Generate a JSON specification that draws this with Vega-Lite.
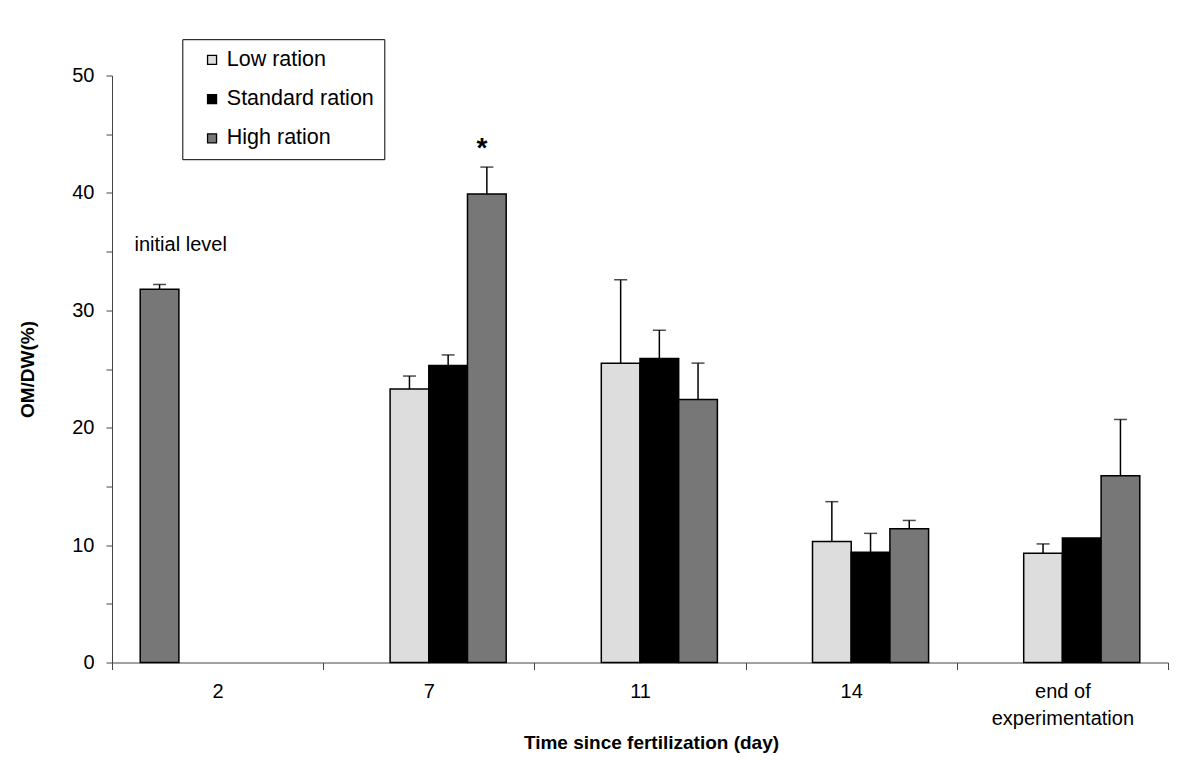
{
  "$schema": "https://vega.github.io/schema/vega-lite/v6.json",
  "autosize": {"type": "none"},
  "width": 1056,
  "height": 587,
  "padding": {"left": 112, "top": 75.5, "right": 24, "bottom": 97.5},
  "background": "white",
  "config": {
    "font": "Liberation Sans",
    "view": {"stroke": null},
    "axis": {"domainColor": "#444444", "tickColor": "#444444", "labelColor": "black", "titleColor": "black", "grid": false}
  },
  "datasets": {
    "bars": [
      {"day": "2", "series": "Initial level", "value": 31.8, "err": 32.2},
      {"day": "7", "series": "Low ration", "value": 23.3, "err": 24.4},
      {"day": "7", "series": "Standard ration", "value": 25.3, "err": 26.2},
      {"day": "7", "series": "High ration", "value": 39.9, "err": 42.2},
      {"day": "11", "series": "Low ration", "value": 25.5, "err": 32.6},
      {"day": "11", "series": "Standard ration", "value": 25.9, "err": 28.3},
      {"day": "11", "series": "High ration", "value": 22.4, "err": 25.5},
      {"day": "14", "series": "Low ration", "value": 10.3, "err": 13.7},
      {"day": "14", "series": "Standard ration", "value": 9.4, "err": 11.0},
      {"day": "14", "series": "High ration", "value": 11.4, "err": 12.1},
      {"day": "end of experimentation", "series": "Low ration", "value": 9.3, "err": 10.1},
      {"day": "end of experimentation", "series": "Standard ration", "value": 10.6, "err": null},
      {"day": "end of experimentation", "series": "High ration", "value": 15.9, "err": 20.7}
    ]
  },
  "encoding": {
    "x": {
      "field": "day", "type": "nominal",
      "sort": ["2", "7", "11", "14", "end of experimentation"],
      "scale": {"domain": ["2", "7", "11", "14", "end of experimentation"], "paddingInner": 0, "paddingOuter": 0},
      "axis": {
        "title": "Time since fertilization (day)",
        "titleFontSize": 19, "titleFontWeight": "bold",
        "titleX": 539, "titleY": 80, "titleBaseline": "middle",
        "labelAngle": 0, "labelFontSize": 20, "labelLineHeight": 27,
        "labelPadding": 12, "tickSize": 7, "tickBand": "extent",
        "labelExpr": "datum.value == 'end of experimentation' ? ['end of', 'experimentation'] : datum.label"
      }
    },
    "xOffset": {
      "field": "series", "type": "nominal",
      "sort": ["Initial level", "Low ration", "Standard ration", "High ration"],
      "scale": {"domain": ["Initial level", "Low ration", "Standard ration", "High ration"], "paddingInner": 0, "paddingOuter": 0.729}
    }
  },
  "layer": [
    {
      "data": {"name": "bars"},
      "mark": {"type": "bar", "stroke": "black", "strokeWidth": 1.5},
      "encoding": {
        "y": {
          "field": "value", "type": "quantitative",
          "scale": {"domain": [0, 50], "nice": false},
          "axis": {
            "title": "OM/DW(%)", "titleFontSize": 19, "titleFontWeight": "bold", "titlePadding": 34,
            "values": [0, 5, 10, 15, 20, 25, 30, 35, 40, 45, 50],
            "labelExpr": "datum.value % 10 === 0 ? datum.label : ''",
            "labelFontSize": 20, "labelPadding": 12, "tickSize": 6
          }
        },
        "color": {
          "field": "series", "type": "nominal",
          "scale": {
            "domain": ["Low ration", "Standard ration", "High ration", "Initial level"],
            "range": ["#DDDDDD", "#000000", "#777777", "#777777"]
          },
          "legend": {
            "title": null,
            "values": ["Low ration", "Standard ration", "High ration"],
            "orient": "none", "legendX": 70.3, "legendY": -36.3,
            "direction": "vertical",
            "fillColor": "white", "strokeColor": "black",
            "padding": 10, "symbolOffset": 9,
            "symbolType": "square", "symbolSize": 81,
            "symbolStrokeColor": "black", "symbolStrokeWidth": 1.3,
            "labelFontSize": 21.5, "labelOffset": 4, "rowPadding": 16.2,
            "labelColor": "black"
          }
        }
      }
    },
    {
      "data": {"name": "bars"},
      "transform": [{"filter": "isValid(datum.err)"}],
      "mark": {"type": "rule", "color": "black", "strokeWidth": 1.5},
      "encoding": {
        "y": {"field": "value", "type": "quantitative"},
        "y2": {"field": "err"}
      }
    },
    {
      "data": {"name": "bars"},
      "transform": [{"filter": "isValid(datum.err)"}],
      "mark": {"type": "tick", "color": "black", "size": 13, "thickness": 1.5, "orient": "horizontal"},
      "encoding": {
        "y": {"field": "err", "type": "quantitative"}
      }
    },
    {
      "data": {"values": [{"day": "2", "series": "Initial level", "label": "initial level", "y": 35.6}]},
      "mark": {"type": "text", "align": "left", "baseline": "middle", "fontSize": 20, "dx": -25, "color": "black"},
      "encoding": {
        "y": {"field": "y", "type": "quantitative"},
        "text": {"field": "label"}
      }
    },
    {
      "data": {"values": [{"day": "7", "series": "High ration", "label": "*", "y": 43.1}]},
      "mark": {"type": "text", "align": "center", "baseline": "alphabetic", "fontSize": 28, "fontWeight": "bold", "dx": -5, "color": "black"},
      "encoding": {
        "y": {"field": "y", "type": "quantitative"},
        "text": {"field": "label"}
      }
    }
  ]
}
